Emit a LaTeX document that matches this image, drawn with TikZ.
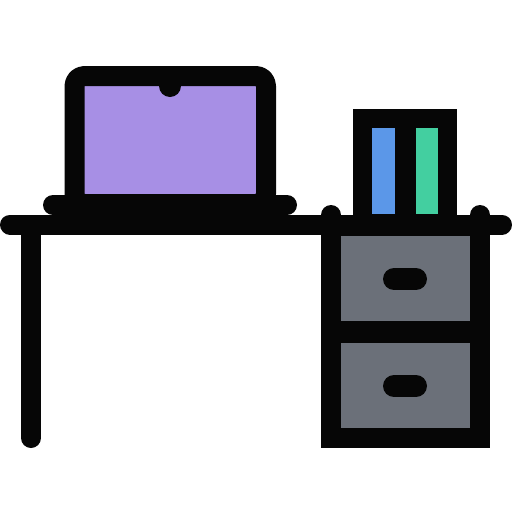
\documentclass[tikz,border=0pt]{standalone}
\usepackage{tikz}
\definecolor{screen}{HTML}{A78FE5}
\definecolor{bookblue}{HTML}{5B97E8}
\definecolor{bookgreen}{HTML}{43CFA0}
\definecolor{drawer}{HTML}{6B7079}
\definecolor{ink}{HTML}{060606}
\tikzstyle{outline}=[draw=ink,line width=20pt,line join=round]
\tikzstyle{line}=[ink,line width=20pt,line cap=round]
\tikzstyle{handle}=[ink,line width=22pt,line cap=round]
\tikzstyle{drawerbox}=[outline,fill=drawer,line join=miter]

\begin{document}
\begin{tikzpicture}[x=1pt,y=-1pt]
	\useasboundingbox (0,0) rectangle (512,512);

	\draw[outline,fill=screen,rounded corners=10pt]
		(74.5,204) -- (74.5,76) -- (266,76) -- (266,204) -- cycle;
	\fill[ink] (170,86) circle (11pt);
	\draw[line] (53,205) -- (287,205);

	\fill[ink] (353,109) rectangle (457,225);
	\fill[bookblue] (372,128) rectangle (395,214);
	\fill[bookgreen] (416,128) rectangle (438,214);

	\draw[drawerbox] (331,226) rectangle (480,331);
	\draw[drawerbox] (331,333) rectangle (480,438);
	\draw[line] (331,215) -- (331,225);
	\draw[line] (480,215) -- (480,225);
	\draw[handle] (394,279) -- (416,279);
	\draw[handle] (394,386) -- (416,386);

	\draw[line] (10,224.5) -- (502,224.5);
	\draw[line] (31,225) -- (31,438);
\end{tikzpicture}
\end{document}
